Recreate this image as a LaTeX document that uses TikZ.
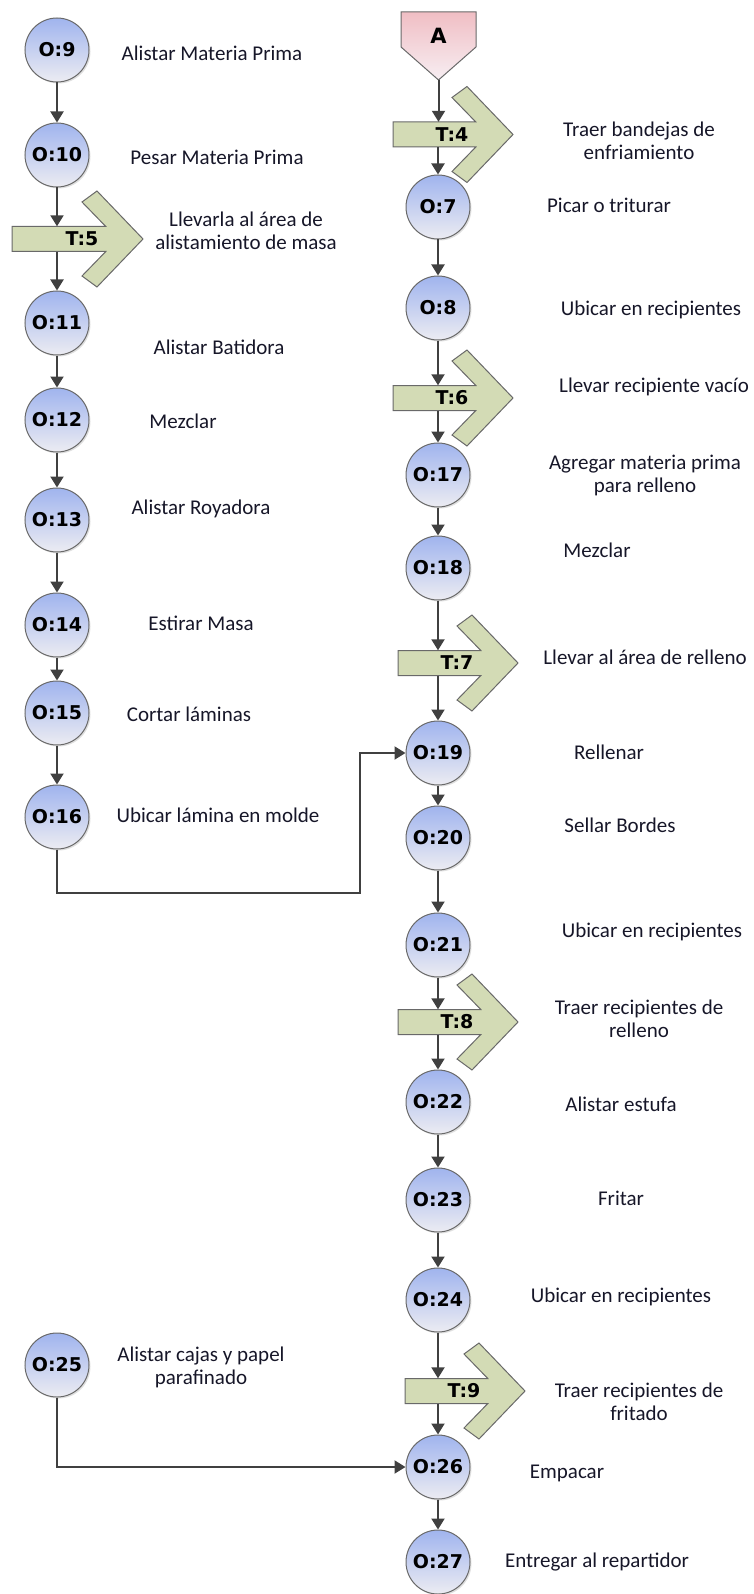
\documentclass[tikz,border=0pt]{standalone}
\usepackage{fontspec}
\setmainfont{Carlito}
\newfontfamily\opfont{DejaVu Sans}
\usetikzlibrary{arrows.meta,shadows}

\definecolor{opTop}{RGB}{160,180,238}
\definecolor{opBot}{RGB}{236,236,242}
\definecolor{edgeGray}{RGB}{105,105,105}
\definecolor{tFill}{RGB}{211,219,181}
\definecolor{flowGray}{RGB}{64,64,64}
\definecolor{aTop}{RGB}{240,190,196}
\definecolor{aBot}{RGB}{247,238,242}
\definecolor{txt}{RGB}{22,22,40}

\tikzset{
    op/.style={circle, draw=edgeGray, line width=1pt, top color=opTop, bottom color=opBot,
        minimum size=64pt, inner sep=0pt, drop shadow={shadow xshift=1.5pt, shadow yshift=-1.5pt, opacity=0.25},
        font=\opfont\bfseries\fontsize{19}{19}\selectfont},
    desc/.style={align=center, text=txt, inner sep=0pt, font=\fontsize{21}{23}\selectfont},
    tshape/.style={draw=edgeGray, line width=1pt, fill=tFill},
    tlabel/.style={inner sep=0pt, minimum height=25pt, font=\opfont\bfseries\fontsize{19}{19}\selectfont},
    ashape/.style={draw=edgeGray, line width=1pt, top color=aTop, bottom color=aBot},
    flow/.style={draw=flowGray, line width=2pt, -{Triangle[length=11pt,width=13pt]}},
}

% transport arrow: [extra left] name, x of left end, y of centre, text
\newcommand{\transp}[5][0]{%
    \begin{scope}[shift={(#3,#4)}]
        \draw[tshape] (-#1,-12.5) -- (82.8,-12.5) -- (59,-37) -- (74,-48) -- (120,0)
            -- (74,48) -- (59,37) -- (82.8,12.5) -- (-#1,12.5) -- cycle;
        \node[tlabel] (#2) at (59,0) {#5};
    \end{scope}}

\begin{document}
\begin{tikzpicture}[x=1pt, y=-1pt]
    \useasboundingbox (0,0) rectangle (754,1594);

    % Left column
    \node[op] (O9) at (57,50) {O:9};
    \node[op] (O10) at (57,155) {O:10};
    \transp[11]{T5}{23}{239}{T:5};
    \node[op] (O11) at (57,323) {O:11};
    \node[op] (O12) at (57,420) {O:12};
    \node[op] (O13) at (57,520) {O:13};
    \node[op] (O14) at (57,625) {O:14};
    \node[op] (O15) at (57,713) {O:15};
    \node[op] (O16) at (57,817) {O:16};
    \node[op] (O25) at (57,1365) {O:25};

    \node[desc] (d9) at (212,53) {Alistar Materia Prima};
    \node[desc] (d10) at (217,157) {Pesar Materia Prima};
    \node[desc] (dT5) at (246,231) {Llevarla al área de\\alistamiento de masa};
    \node[desc] (d11) at (219,347) {Alistar Batidora};
    \node[desc] (d12) at (183,421) {Mezclar};
    \node[desc] (d13) at (201,509) {Alistar Royadora};
    \node[desc] (d14) at (201,623) {Estirar Masa};
    \node[desc] (d15) at (189,714) {Cortar láminas};
    \node[desc] (d16) at (218,815) {Ubicar lámina en molde};
    \node[desc] (d25) at (201,1367) {Alistar cajas y papel\\parafinado};

    % Right column
    \draw[ashape] (401,12) -- (476,12) -- (476,47) -- (438.5,80) -- (401,47) -- cycle;
    \node[tlabel, font=\opfont\bfseries\fontsize{21}{21}\selectfont] (A) at (438.5,36) {A};
    \coordinate (Atip) at (438.5,80);
    \transp{T4}{393}{134.5}{T:4};
    \node[op] (O7) at (438,207) {O:7};
    \node[op] (O8) at (438,308) {O:8};
    \transp{T6}{393}{398}{T:6};
    \node[op] (O17) at (438,475) {O:17};
    \node[op] (O18) at (438,568) {O:18};
    \transp{T7}{398}{663}{T:7};
    \node[op] (O19) at (438,753) {O:19};
    \node[op] (O20) at (438,838) {O:20};
    \node[op] (O21) at (438,945) {O:21};
    \transp{T8}{398}{1022}{T:8};
    \node[op] (O22) at (438,1102) {O:22};
    \node[op] (O23) at (438,1200) {O:23};
    \node[op] (O24) at (438,1300) {O:24};
    \transp{T9}{405}{1391}{T:9};
    \node[op] (O26) at (438,1467) {O:26};
    \node[op] (O27) at (438,1562) {O:27};

    \node[desc] (dT4) at (639,141) {Traer bandejas de\\enfriamiento};
    \node[desc] (d7) at (609,205) {Picar o triturar};
    \node[desc] (d8) at (651,310) {Ubicar en recipientes};
    \node[desc] (dT6) at (654,387) {Llevar recipiente vacío};
    \node[desc] (d17) at (645,475) {Agregar materia prima\\para relleno};
    \node[desc] (d18) at (597,550) {Mezclar};
    \node[desc] (dT7) at (645,657) {Llevar al área de relleno};
    \node[desc] (d19) at (609,752) {Rellenar};
    \node[desc] (d20) at (620,825) {Sellar Bordes};
    \node[desc] (d21) at (652,932) {Ubicar en recipientes};
    \node[desc] (dT8) at (639,1019) {Traer recipientes de\\relleno};
    \node[desc] (d22) at (621,1104) {Alistar estufa};
    \node[desc] (d23) at (621,1198) {Fritar};
    \node[desc] (d24) at (621,1297) {Ubicar en recipientes};
    \node[desc] (dT9) at (639,1402) {Traer recipientes de\\fritado};
    \node[desc] (d26) at (567,1473) {Empacar};
    \node[desc] (d27) at (597,1562) {Entregar al repartidor};

    % Flow left
    \draw[flow] (O9) -- (O10);
    \draw[flow] (O10) -- (O10 |- T5.north);
    \draw[flow] (O11 |- T5.south) -- (O11);
    \draw[flow] (O11) -- (O12);
    \draw[flow] (O12) -- (O13);
    \draw[flow] (O13) -- (O14);
    \draw[flow] (O14) -- (O15);
    \draw[flow] (O15) -- (O16);
    \coordinate (bend16) at (360,893);
    \draw[flow] (O16.south) |- (bend16) |- (O19.west);
    \draw[flow] (O25.south) |- (O26.west);

    % Flow right
    \draw[flow] (Atip) -- (Atip |- T4.north);
    \draw[flow] (O7 |- T4.south) -- (O7);
    \draw[flow] (O7) -- (O8);
    \draw[flow] (O8) -- (O8 |- T6.north);
    \draw[flow] (O17 |- T6.south) -- (O17);
    \draw[flow] (O17) -- (O18);
    \draw[flow] (O18) -- (O18 |- T7.north);
    \draw[flow] (O19 |- T7.south) -- (O19);
    \draw[flow] (O19) -- (O20);
    \draw[flow] (O20) -- (O21);
    \draw[flow] (O21) -- (O21 |- T8.north);
    \draw[flow] (O22 |- T8.south) -- (O22);
    \draw[flow] (O22) -- (O23);
    \draw[flow] (O23) -- (O24);
    \draw[flow] (O24) -- (O24 |- T9.north);
    \draw[flow] (O26 |- T9.south) -- (O26);
    \draw[flow] (O26) -- (O27);
\end{tikzpicture}
\end{document}
